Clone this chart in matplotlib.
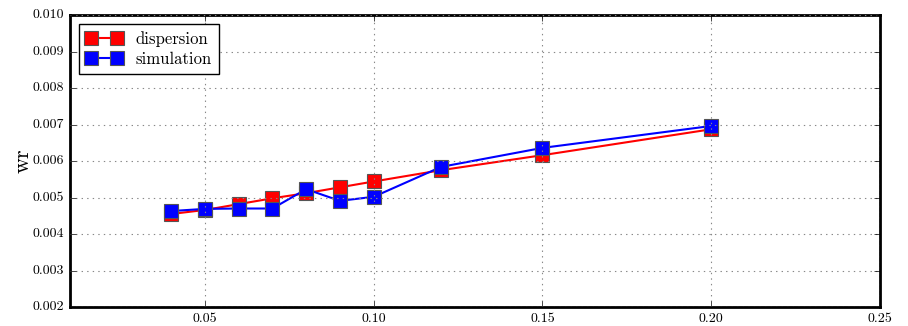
import matplotlib
matplotlib.use("Agg")
import matplotlib.pyplot as plt

# wr against fraction, dispersion relation vs simulation
x = [0.04, 0.05, 0.06, 0.07, 0.08, 0.09, 0.10, 0.12, 0.15, 0.20]
dispersion = [0.00455, 0.00466, 0.00482, 0.00498, 0.00512, 0.00528, 0.00544, 0.00575, 0.00616, 0.00687]
simulation = [0.00463, 0.00469, 0.00470, 0.00470, 0.00523, 0.00491, 0.00502, 0.00584, 0.00636, 0.00696]

plt.style.use("classic")
plt.rcParams["font.family"] = "serif"
plt.rcParams["font.serif"] = ["cmr10", "DejaVu Serif"]
plt.rcParams["mathtext.fontset"] = "cm"
plt.rcParams["axes.formatter.use_mathtext"] = True

fig = plt.figure(figsize=(9.08, 3.26), dpi=100)
ax = fig.add_axes([0.077, 0.058, 0.892, 0.896])

ax.plot(x, dispersion, "s-", color="red", lw=1.5, ms=10, mec="#555555", mew=0.8, label="dispersion")
ax.plot(x, simulation, "s-", color="blue", lw=1.5, ms=10, mec="#555555", mew=0.8, label="simulation")

ax.set_xlim(0.01, 0.25)
ax.set_ylim(0.002, 0.010)
ax.set_xticks([0.05, 0.10, 0.15, 0.20, 0.25])
ax.set_xticklabels(["0.05", "0.10", "0.15", "0.20", "0.25"])
ax.set_yticks([0.002, 0.003, 0.004, 0.005, 0.006, 0.007, 0.008, 0.009, 0.010])
ax.set_yticklabels(["%.3f" % v for v in ax.get_yticks()])
ax.tick_params(labelsize=10)
ax.set_ylabel("wr", fontsize=16, labelpad=0)
ax.grid(True, color="#888888", linestyle=":", linewidth=0.8)
for s in ax.spines.values():
    s.set_linewidth(2)

ax.legend(loc="upper left", numpoints=2, fontsize=12, fancybox=False,
          borderaxespad=0.55, handlelength=2.2, borderpad=0.4, labelspacing=0.3)

fig.savefig("out.png", dpi=100)
